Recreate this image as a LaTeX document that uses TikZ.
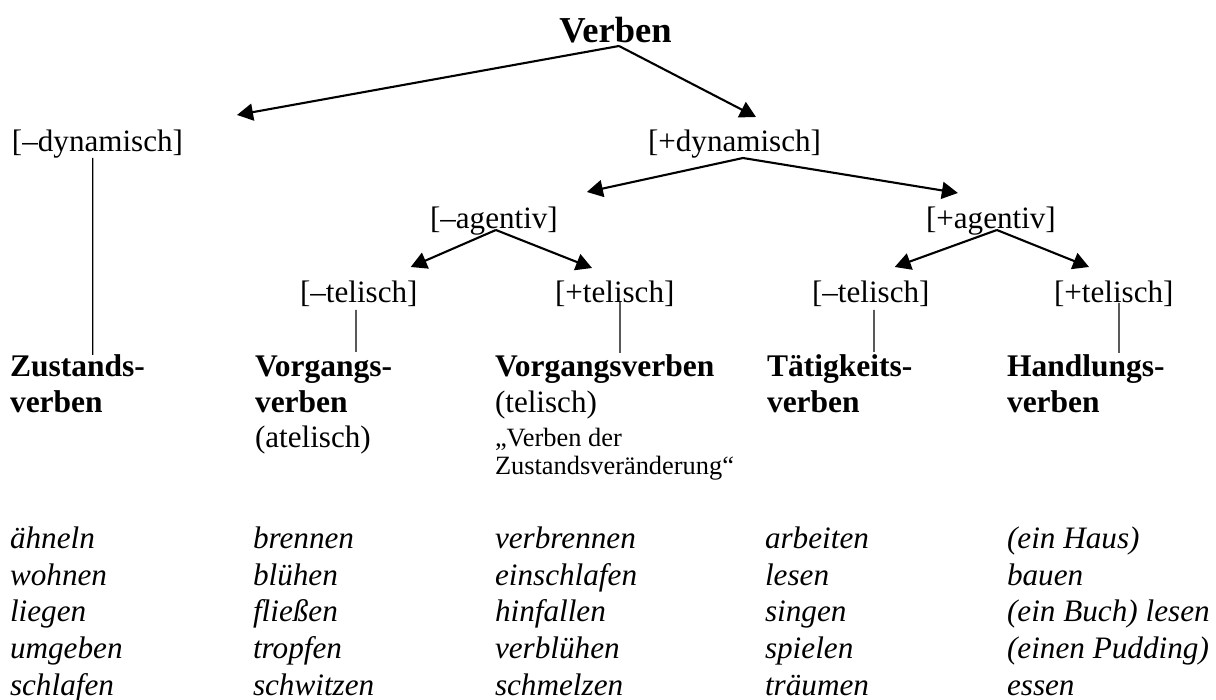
\documentclass[tikz,border=0pt]{standalone}
\usepackage{fontspec}
\setmainfont{Liberation Serif}
\usetikzlibrary{arrows.meta}
\begin{document}
\begin{tikzpicture}[x=1pt,y=-1pt,
  txt/.style={inner sep=0pt, outer sep=0pt, anchor=base west},
  feat/.style={txt, font=\fontsize{31.1}{36}\selectfont},
  head/.style={txt, font=\fontsize{31.5}{36}\selectfont\bfseries},
  sub/.style={txt, font=\fontsize{31.1}{36}\selectfont},
  small/.style={txt, font=\fontsize{26.4}{30}\selectfont},
  ex/.style={txt, font=\fontsize{31.2}{36}\selectfont\itshape},
  arr/.style={line width=2.1pt, -{Triangle[length=16pt,width=17pt]}},
  thin/.style={line width=1.2pt}]
\useasboundingbox (0,0) rectangle (1216,700);
\fill[white] (0,0) rectangle (1216,700);

% root
\node[inner sep=0pt, outer sep=0pt, anchor=base, font=\fontsize{36.5}{40}\selectfont\bfseries] (verben) at (615.5,43) {Verben};

% features
\node[feat] (dminus) at (12,152) {[–dynamisch]};
\node[feat] (dplus) at (648,152) {[+dynamisch]};
\node[feat] (aminus) at (430,229) {[–agentiv]};
\node[feat] (aplus) at (926,229) {[+agentiv]};
\node[feat] (tminA) at (300,303) {[–telisch]};
\node[feat] (tplusA) at (555,303) {[+telisch]};
\node[feat] (tminB) at (812,303) {[–telisch]};
\node[feat] (tplusB) at (1054,303) {[+telisch]};

% arrows
\draw[arr] ([shift={(3.5,3)}]verben.base) -- ([shift={(54,-37)}]dminus.base east);
\draw[arr] ([shift={(3.5,3)}]verben.base) -- ([shift={(21.5,-35)}]dplus.base);
\draw[arr] ([shift={(8.5,6)}]dplus.base) -- ([shift={(93,-37)}]aminus.base);
\draw[arr] ([shift={(8.5,6)}]dplus.base) -- ([shift={(-33,-36)}]aplus.base);
\draw[arr] ([shift={(2,1)}]aminus.base) -- ([shift={(52,-36)}]tminA.base);
\draw[arr] ([shift={(2,1)}]aminus.base) -- ([shift={(-22.7,-35)}]tplusA.base);
\draw[arr] ([shift={(6,1)}]aplus.base) -- ([shift={(24,-36)}]tminB.base);
\draw[arr] ([shift={(6,1)}]aplus.base) -- ([shift={(-24.7,-36)}]tplusB.base);

% category labels
\node[head] (zustA) at (10,377) {Zustands-};
\node[head] (zustB) at (10,413) {verben};
\node[head] (vorgA) at (255,377) {Vorgangs-};
\node[head] (vorgB) at (255,413) {verben};
\node[sub]  (vorgC) at (255,448) {(atelisch)};
\node[head] (vtelA) at (495,377) {Vorgangsverben};
\node[sub]  (vtelB) at (495,413) {(telisch)};
\node[small] (vtelC) at (495,447) {„Verben der};
\node[small] (vtelD) at (495,475) {Zustandsveränderung“};
\node[head] (taetA) at (767,377) {Tätigkeits-};
\node[head] (taetB) at (767,413) {verben};
\node[head] (handA) at (1007,377) {Handlungs-};
\node[head] (handB) at (1007,413) {verben};

% vertical lines
\draw[thin] ([shift={(-4.8,6)}]dminus.base) -- ([shift={(82.7,-22)}]zustA.base west);
\draw[thin] ([shift={(-2.7,7)}]tminA.base) -- ([shift={(101,-25)}]vorgA.base west);
\draw[thin] ([shift={(5.3,-1)}]tplusA.base) -- ([shift={(125,-24)}]vtelA.base west);
\draw[thin] ([shift={(3.3,7)}]tminB.base) -- ([shift={(107,-25)}]taetA.base west);
\draw[thin] ([shift={(5.3,0)}]tplusB.base) -- ([shift={(112,-24)}]handA.base west);

% examples
\node[ex] (e11) at (10,548) {ähneln};
\node[ex] (e12) at (10,585) {wohnen};
\node[ex] (e13) at (10,621) {liegen};
\node[ex] (e14) at (10,658) {umgeben};
\node[ex] (e15) at (10,695) {schlafen};
\node[ex] (e21) at (253,548) {brennen};
\node[ex] (e22) at (253,585) {blühen};
\node[ex] (e23) at (253,621) {fließen};
\node[ex] (e24) at (253,658) {tropfen};
\node[ex] (e25) at (253,695) {schwitzen};
\node[ex] (e31) at (495,548) {verbrennen};
\node[ex] (e32) at (495,585) {einschlafen};
\node[ex] (e33) at (495,621) {hinfallen};
\node[ex] (e34) at (495,658) {verblühen};
\node[ex] (e35) at (495,695) {schmelzen};
\node[ex] (e41) at (765,548) {arbeiten};
\node[ex] (e42) at (765,585) {lesen};
\node[ex] (e43) at (765,621) {singen};
\node[ex] (e44) at (765,658) {spielen};
\node[ex] (e45) at (765,695) {träumen};
\node[ex] (e51) at (1007,548) {(ein Haus)};
\node[ex] (e52) at (1007,585) {bauen};
\node[ex] (e53) at (1007,621) {(ein Buch) lesen};
\node[ex] (e54) at (1007,658) {(einen Pudding)};
\node[ex] (e55) at (1007,695) {essen};
\end{tikzpicture}
\end{document}
